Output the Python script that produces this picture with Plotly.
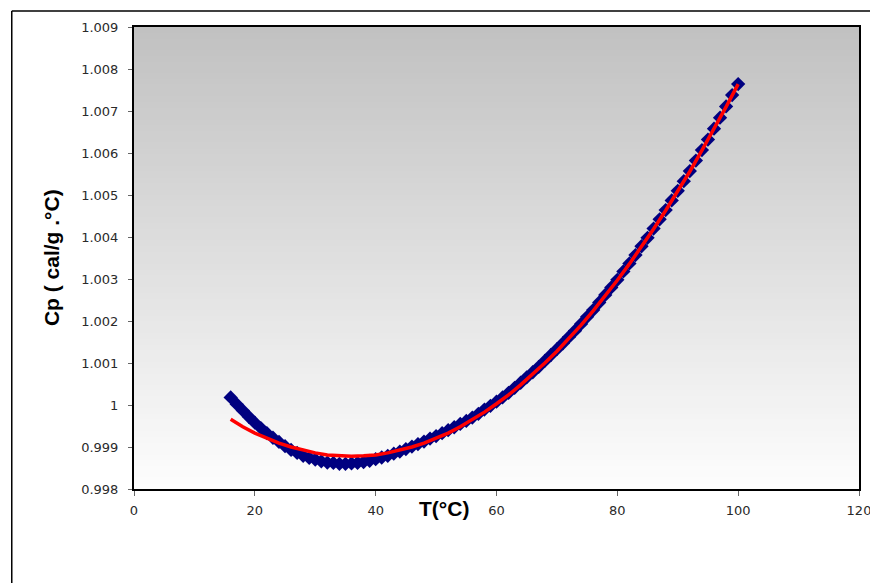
import plotly.graph_objects as go

# Measured specific heat of water, one reading per degree
temp_c = list(range(16, 101))
cp_measured = [
    1.00018, 1.00002, 0.99987, 0.99972, 0.99958, 0.99945, 0.99933, 0.99922,
    0.99912, 0.99902, 0.99893, 0.99886, 0.99879, 0.99874, 0.99870, 0.99866,
    0.99863, 0.99862, 0.99860, 0.99860, 0.99861, 0.99862, 0.99864, 0.99867,
    0.99871, 0.99875, 0.99879, 0.99884, 0.99889, 0.99895, 0.99901, 0.99907,
    0.99913, 0.99920, 0.99926, 0.99933, 0.99940, 0.99947, 0.99955, 0.99962,
    0.99970, 0.99979, 0.99989, 0.99998, 1.00008, 1.00018, 1.00029, 1.00041,
    1.00053, 1.00066, 1.00078, 1.00091, 1.00105, 1.00119, 1.00133, 1.00147,
    1.00162, 1.00177, 1.00193, 1.00210, 1.00226, 1.00244, 1.00262, 1.00280,
    1.00298, 1.00318, 1.00337, 1.00357, 1.00378, 1.00398, 1.00420, 1.00442,
    1.00464, 1.00487, 1.00510, 1.00533, 1.00557, 1.00582, 1.00607, 1.00632,
    1.00658, 1.00684, 1.00711, 1.00738, 1.00764,
]

# Fitted curve, every 2 degrees
temp_fit = list(range(16, 101, 2))
cp_fit = [
    0.99966, 0.99948, 0.99933, 0.99920, 0.99909, 0.99900, 0.99892, 0.99886,
    0.99881, 0.99879, 0.99878, 0.99879, 0.99881, 0.99886, 0.99892, 0.99900,
    0.99909, 0.99920, 0.99933, 0.99948, 0.99965, 0.99983, 1.00003, 1.00024,
    1.00048, 1.00073, 1.00100, 1.00128, 1.00158, 1.00190, 1.00224, 1.00260,
    1.00297, 1.00336, 1.00376, 1.00419, 1.00463, 1.00509, 1.00556, 1.00606,
    1.00657, 1.00710, 1.00764,
]

y_ticks = [0.998, 0.999, 1.000, 1.001, 1.002, 1.003, 1.004, 1.005, 1.006, 1.007, 1.008, 1.009]
y_tick_text = ["0.998", "0.999", "1", "1.001", "1.002", "1.003", "1.004",
               "1.005", "1.006", "1.007", "1.008", "1.009"]
x_ticks = [0, 20, 40, 60, 80, 100, 120]

fig = go.Figure()

fig.add_trace(go.Scatter(
    x=temp_c, y=cp_measured, mode="markers",
    marker=dict(symbol="diamond", size=11, color="#000080",
                line=dict(width=0)),
    showlegend=False,
))
fig.add_trace(go.Scatter(
    x=temp_fit, y=cp_fit, mode="lines",
    line=dict(color="#FF0000", width=3.5),
    showlegend=False,
))

# Vertical grey-to-white gradient behind the plot area
shapes = []
n_bands = 80
for i in range(n_bands):
    frac = i / (n_bands - 1)
    g = int(round(253 - (253 - 193) * frac))
    shapes.append(dict(
        type="rect", xref="x domain", yref="y domain",
        x0=0, x1=1, y0=i / n_bands, y1=(i + 1) / n_bands + 0.002,
        fillcolor=f"rgb({g},{g},{g})", line=dict(width=0), layer="below",
    ))

# Outer chart frame (left and top edges)
frame_x = -0.1686
frame_y = 1.0346
shapes.append(dict(type="line", xref="paper", yref="paper",
                   x0=frame_x, x1=frame_x, y0=-0.3, y1=frame_y,
                   line=dict(color="black", width=1.5), layer="above"))
shapes.append(dict(type="line", xref="paper", yref="paper",
                   x0=frame_x, x1=1.1, y0=frame_y, y1=frame_y,
                   line=dict(color="black", width=1.5), layer="above"))

tick_font = dict(family="DejaVu Sans", size=13, color="#2a2a2a")

fig.update_layout(
    width=870, height=583,
    margin=dict(l=134, r=10.5, t=27, b=94, autoexpand=False),
    paper_bgcolor="white", plot_bgcolor="white",
    shapes=shapes,
    xaxis=dict(
        range=[0, 120], tickvals=x_ticks, showgrid=False, zeroline=False,
        showline=True, mirror=True, linecolor="black", linewidth=2,
        ticks="outside", ticklen=5, tickcolor="#666666", tickwidth=1,
        tickfont=tick_font, ticklabeloverflow="allow", ticklabelstandoff=3,
    ),
    yaxis=dict(
        range=[0.998, 1.009], tickvals=y_ticks, ticktext=y_tick_text,
        showgrid=False, zeroline=False,
        showline=True, mirror=True, linecolor="black", linewidth=2,
        ticks="outside", ticklen=4, tickcolor="#666666", tickwidth=1,
        tickfont=tick_font, ticklabelstandoff=7,
    ),
    annotations=[
        dict(text="<b>Cp ( cal/g .°C)</b>", textangle=-90,
             xref="paper", yref="paper", x=-0.1144, y=0.5,
             xanchor="center", yanchor="middle", showarrow=False,
             font=dict(family="Liberation Sans", size=21, color="black")),
        dict(text="<b>T(°C)</b>",
             xref="paper", yref="paper", x=0.427, y=-0.0426,
             xanchor="center", yanchor="middle", showarrow=False,
             font=dict(family="Liberation Sans", size=21, color="black")),
    ],
)

fig.write_html("out.html")
